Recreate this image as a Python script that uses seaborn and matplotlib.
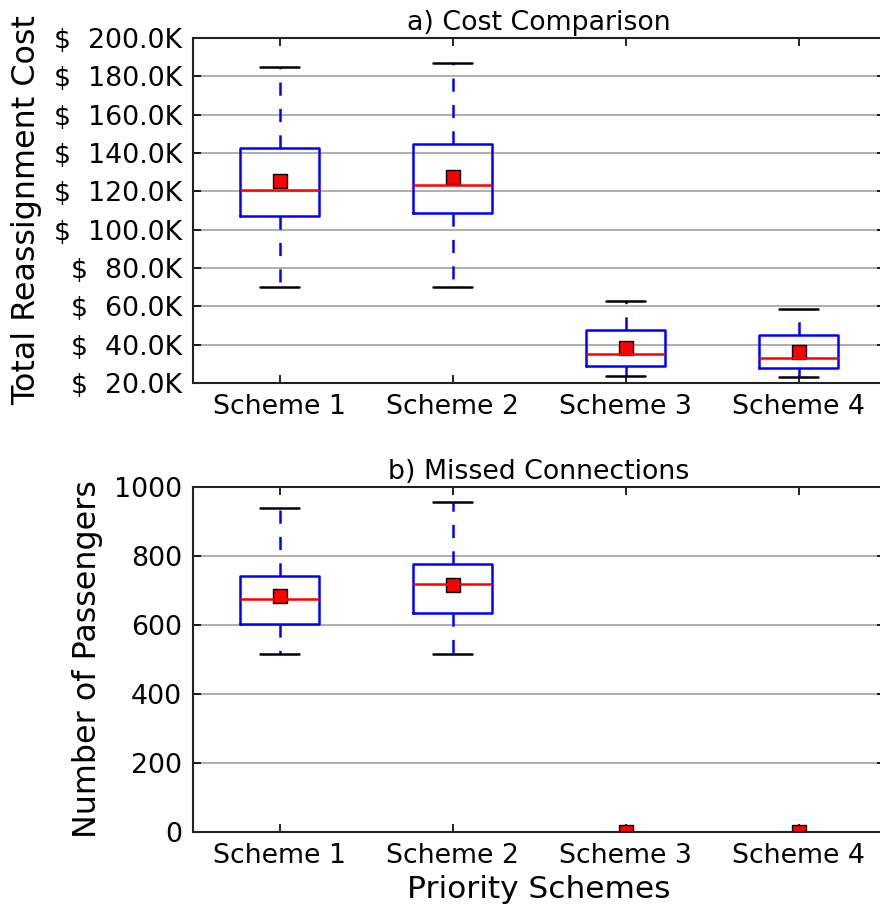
import matplotlib
matplotlib.use("Agg")
import matplotlib.pyplot as plt
import seaborn as sns
import pandas as pd
import numpy as np

schemes = ["Scheme 1", "Scheme 2", "Scheme 3", "Scheme 4"]

# Cost (in K$): [lower whisker, Q1, median, Q3, upper whisker]
cost_s1 = [70.0, 107.0, 120.7, 142.6, 184.8]
cost_s2 = [70.2, 108.5, 123.3, 144.5, 186.8]
cost_s3 = [23.5, 29.0, 35.1, 47.6, 62.9]
cost_s4 = [23.0, 27.8, 33.0, 44.9, 58.4]
cost_means = [125.5, 127.6, 38.3, 36.3]

# Missed connections: [lower whisker, Q1, median, Q3, upper whisker]
miss_s1 = [517, 602, 674, 741, 939]
miss_s2 = [517, 634, 719, 776, 957]
miss_s3 = [0, 0, 0, 0, 0]
miss_s4 = [0, 0, 0, 0, 0]
miss_means = [685, 715, 0, 0]

cost_ticks = [20, 40, 60, 80, 100, 120, 140, 160, 180, 200]
miss_ticks = [0, 200, 400, 600, 800, 1000]

sns.set_style("ticks")
plt.rcParams["font.family"] = ["DejaVu Sans"]
plt.rcParams["lines.scale_dashes"] = False
plt.rcParams["xtick.direction"] = "in"
plt.rcParams["ytick.direction"] = "in"
plt.rcParams["xtick.top"] = True
plt.rcParams["ytick.right"] = True
for k in ["text.color", "axes.labelcolor", "xtick.color", "ytick.color", "axes.edgecolor"]:
    plt.rcParams[k] = "black"

def long_df(groups):
    rows = []
    for name, vals in zip(schemes, groups):
        for v in vals:
            rows.append((name, v))
    return pd.DataFrame(rows, columns=["scheme", "value"])

fig = plt.figure(figsize=(8.8, 9.09), dpi=100)
W, H = 880.0, 909.0
ax1 = fig.add_axes([193 / W, (H - 383) / H, (885 - 193) / W, 345 / H])
ax2 = fig.add_axes([193 / W, (H - 832) / H, (885 - 193) / W, 345 / H])

LW = 1.8
box_kw = dict(
    whis=(0, 100), width=0.46, fill=False, color="blue", linewidth=LW,
    boxprops=dict(color="blue", linewidth=LW),
    medianprops=dict(color="red", linewidth=LW),
    whiskerprops=dict(color="blue", linewidth=LW, linestyle=(0, (9.5, 9.5))),
    capprops=dict(color="black", linewidth=LW),
)
mean_kw = dict(linestyle="none", marker="s", color="red", markersize=10,
               markeredgecolor="black", markeredgewidth=1, errorbar=None)

TICK_FS = 19.3

def draw(ax, groups, means, ticks, ylim):
    df = long_df(groups)
    ax.yaxis.grid(True, color="#999999", linewidth=1.1, linestyle="-")
    ax.set_axisbelow(True)
    sns.boxplot(data=df, x="scheme", y="value", ax=ax, **box_kw)
    mdf = pd.DataFrame({"scheme": schemes, "value": means})
    sns.pointplot(data=mdf, x="scheme", y="value", ax=ax, **mean_kw)
    ax.set_xlim(-0.5, 3.5)
    ax.set_ylim(*ylim)
    ax.set_yticks(ticks)
    ax.tick_params(axis="both", labelsize=TICK_FS, length=6, width=1.2, pad=8,
                   colors="black")
    for sp in ax.spines.values():
        sp.set_linewidth(1.5)
        sp.set_color("#222222")
    ax.set_xlabel("")

draw(ax1, [cost_s1, cost_s2, cost_s3, cost_s4], cost_means, cost_ticks, (20, 200))
ax1.set_yticklabels([f"$  {t:.1f}K" for t in cost_ticks])
ax1.set_title("a) Cost Comparison", fontsize=19.3, pad=6)
ax1.set_ylabel("Total Reassignment Cost", fontsize=22.9, labelpad=8)

draw(ax2, [miss_s1, miss_s2, miss_s3, miss_s4], miss_means, miss_ticks, (0, 1000))
ax2.set_title("b) Missed Connections", fontsize=19.3, pad=6)
ax2.set_ylabel("Number of Passengers", fontsize=22.9, labelpad=8)
ax2.set_xlabel("Priority Schemes", fontsize=22.5, labelpad=4)

fig.savefig("out.png", dpi=100)
